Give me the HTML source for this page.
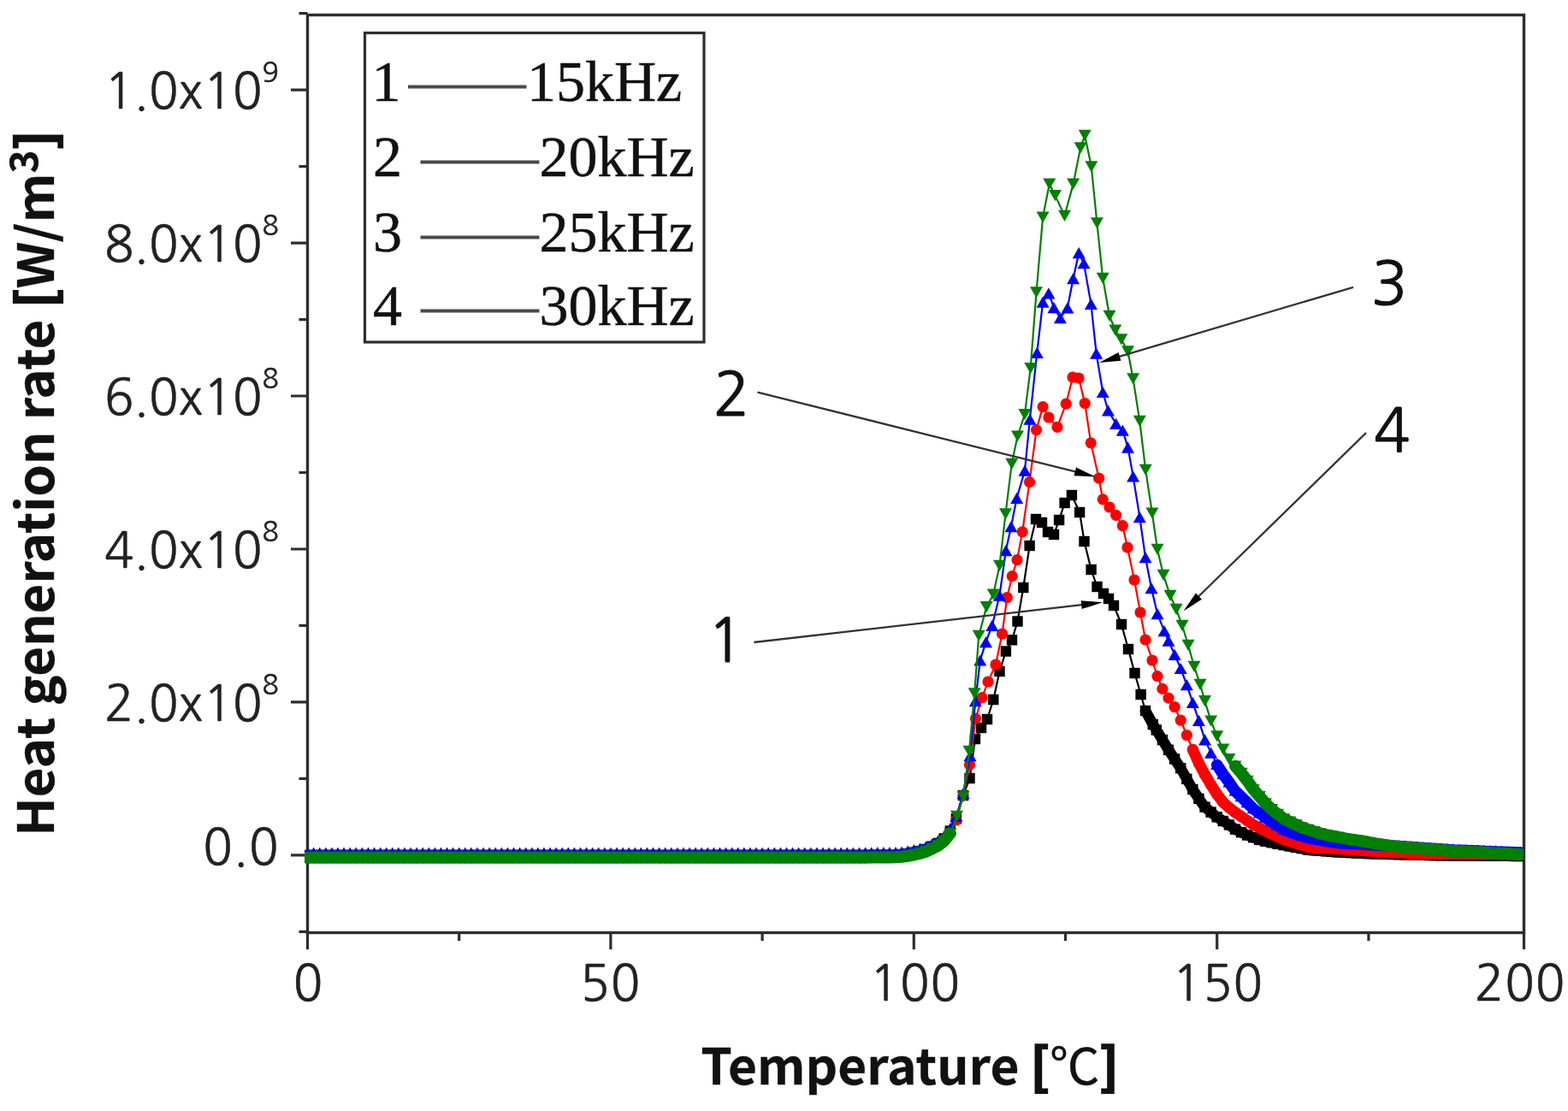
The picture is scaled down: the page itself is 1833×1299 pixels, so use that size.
<!DOCTYPE html>
<html><head><meta charset="utf-8"><style>html,body{margin:0;padding:0;background:#fff;overflow:hidden}svg{display:block}</style></head>
<body><svg width="1833" height="1299" viewBox="0 0 1833 1299"><defs><clipPath id="pc"><rect x="356" y="14" width="1424.5" height="1080"/></clipPath><marker id="msq" markerUnits="userSpaceOnUse" markerWidth="16" markerHeight="16" refX="6.2" refY="6.2" overflow="visible"><rect x="0" y="0" width="12.4" height="12.4" fill="#000"/></marker><marker id="mci" markerUnits="userSpaceOnUse" markerWidth="16" markerHeight="16" refX="8" refY="8" overflow="visible"><circle cx="8" cy="8" r="6.6" fill="#ff0000"/></marker><marker id="mtu" markerUnits="userSpaceOnUse" markerWidth="18" markerHeight="16" refX="7.5" refY="6.6" overflow="visible"><path d="M7.5,0L15,13.2H0Z" fill="#0000ff"/></marker><marker id="mtd" markerUnits="userSpaceOnUse" markerWidth="18" markerHeight="16" refX="7.5" refY="6.6" overflow="visible"><path d="M0,0H15L7.5,13.2Z" fill="#008000"/></marker></defs><rect x="0" y="0" width="1833" height="1299" fill="#fff"/><path d="M349.5,1089.3H359.5 M340,999.8H359.5 M349.5,910.3H359.5 M340,820.9H359.5 M349.5,731.4H359.5 M340,642.0H359.5 M349.5,552.5H359.5 M340,463.0H359.5 M349.5,373.6H359.5 M340,284.1H359.5 M349.5,194.7H359.5 M340,105.2H359.5 M349.5,15.7H359.5 M359.5,1090.5V1110 M536.7,1090.5V1100 M713.9,1090.5V1110 M891.1,1090.5V1100 M1068.3,1090.5V1110 M1245.5,1090.5V1100 M1422.7,1090.5V1110 M1599.9,1090.5V1100 M1781.5,1090.5V1110" stroke="#2e2e2e" stroke-width="3.2" fill="none"/><rect x="359.5" y="17.5" width="1422.0" height="1073.0" stroke="#2e2e2e" stroke-width="3.4" fill="none"/><g font-family="NanumGothic, 'Liberation Sans', sans-serif" font-size="57" letter-spacing="1.0" fill="#222" stroke="#222" stroke-width="0.5"><text x="360.5" y="1170" text-anchor="middle">0</text><text x="713.8" y="1170" text-anchor="middle">50</text><text x="1069.7" y="1170" text-anchor="middle">100</text><text x="1423.8" y="1170" text-anchor="middle">150</text><text x="1777.1" y="1170" text-anchor="middle">200</text><text x="326" y="127.2" text-anchor="end" letter-spacing="0">1.0x10<tspan font-size="32" dy="-31">9</tspan></text><text x="326" y="306.1" text-anchor="end" letter-spacing="0">8.0x10<tspan font-size="32" dy="-31">8</tspan></text><text x="326" y="485.0" text-anchor="end" letter-spacing="0">6.0x10<tspan font-size="32" dy="-31">8</tspan></text><text x="326" y="664.0" text-anchor="end" letter-spacing="0">4.0x10<tspan font-size="32" dy="-31">8</tspan></text><text x="326" y="842.9" text-anchor="end" letter-spacing="0">2.0x10<tspan font-size="32" dy="-31">8</tspan></text><text x="326.5" y="1011" text-anchor="end">0.0</text></g><text x="819.3" y="1268" font-family="'Noto Sans CJK KR', 'Liberation Sans', sans-serif" font-weight="bold" font-size="58" fill="#111" stroke="#111" stroke-width="0.3" textLength="488.4" lengthAdjust="spacingAndGlyphs">Temperature <tspan stroke-width="2.2">[</tspan><tspan font-weight="normal" stroke-width="0.4">℃</tspan><tspan stroke-width="2.2">]</tspan></text><text transform="translate(63,977.7) rotate(-90)" x="0" y="0" font-family="'Noto Sans CJK KR', 'Liberation Sans', sans-serif" font-weight="bold" font-size="58.5" fill="#111" stroke="#111" stroke-width="0.3" textLength="825" lengthAdjust="spacingAndGlyphs">Heat generation rate <tspan stroke-width="2.2">[</tspan>W/m<tspan font-size="45" dy="-19">3</tspan><tspan dy="19" stroke-width="2.2">]</tspan></text><g font-family="'Liberation Serif', 'Times New Roman', serif" font-size="68" fill="#111" stroke="#111" stroke-width="0.5"><rect x="426.5" y="38.5" width="396.5" height="361.5" stroke="#2e2e2e" stroke-width="3.2" fill="#fff"/><text x="434.5" y="117.5">1</text><path d="M477,101.5H615.5" stroke="#4a4a4a" stroke-width="4"/><text x="616" y="117.5">15kHz</text><text x="436" y="205.5">2</text><path d="M491.5,189.5H630.5" stroke="#4a4a4a" stroke-width="4"/><text x="630.5" y="205.5">20kHz</text><text x="436" y="293.5">3</text><path d="M491.5,277.5H630.5" stroke="#4a4a4a" stroke-width="4"/><text x="630.5" y="293.5">25kHz</text><text x="436" y="379.6">4</text><path d="M491.5,363.6H630.5" stroke="#4a4a4a" stroke-width="4"/><text x="630.5" y="379.6">30kHz</text></g><g clip-path="url(#pc)"><polyline points="1339.0,831.0 1347.8,847.0 1351.8,853.5 1358.9,865.1 1366.0,876.8 1373.1,887.4 1380.2,898.2 1387.3,910.8 1394.3,923.0 1401.4,933.8 1408.5,943.6 1415.6,949.6 1422.7,955.3 1429.8,960.0 1436.9,964.4 1444.0,969.6 1451.1,973.2 1458.1,976.5 1465.2,979.2 1472.3,981.9 1479.4,983.7 1486.5,985.2 1493.6,986.7 1500.7,988.1 1507.8,989.4 1514.8,990.8 1521.9,992.1 1529.0,993.5 1536.1,994.2 1543.2,994.8 1550.3,995.3 1557.4,995.9 1564.5,996.3 1571.5,996.7 1578.6,997.0 1585.7,997.4 1592.8,997.7 1599.9,998.1 1607.0,998.3 1614.1,998.5 1621.2,998.7 1628.3,998.9 1635.3,999.1 1642.4,999.3 1649.5,999.5 1656.6,999.6 1663.7,999.8 1670.8,999.9 1677.9,1000.1 1685.0,1000.2 1692.0,1000.3 1699.1,1000.5 1706.2,1000.5 1713.3,1000.6 1720.4,1000.6 1727.5,1000.6 1734.6,1000.7 1741.7,1000.7 1748.7,1000.7 1755.8,1000.8 1762.9,1000.8 1770.0,1000.9 1777.1,1000.9 1784.2,1000.9 1791.3,1001.0 1798.4,1001.0" fill="none" stroke="#000000" stroke-width="12.5" stroke-linejoin="round" stroke-linecap="round"/><polyline points="359.5,1000.0 366.6,1000.0 373.7,1000.0 380.8,1000.0 387.9,1000.0 394.9,1000.0 402.0,1000.0 409.1,1000.0 416.2,1000.0 423.3,1000.0 430.4,1000.0 437.5,1000.0 444.6,1000.0 451.6,1000.0 458.7,1000.0 465.8,1000.0 472.9,1000.0 480.0,1000.0 487.1,1000.0 494.2,1000.0 501.3,1000.0 508.3,1000.0 515.4,1000.0 522.5,1000.0 529.6,1000.0 536.7,1000.0 543.8,1000.0 550.9,1000.0 558.0,1000.0 565.1,1000.0 572.1,1000.0 579.2,1000.0 586.3,1000.0 593.4,1000.0 600.5,1000.0 607.6,1000.0 614.7,1000.0 621.8,1000.0 628.8,1000.0 635.9,1000.0 643.0,1000.0 650.1,1000.0 657.2,1000.0 664.3,1000.0 671.4,1000.0 678.5,1000.0 685.5,1000.0 692.6,1000.0 699.7,1000.0 706.8,1000.0 713.9,1000.0 721.0,1000.0 728.1,1000.0 735.2,1000.0 742.3,1000.0 749.3,1000.0 756.4,1000.0 763.5,1000.0 770.6,1000.0 777.7,1000.0 784.8,1000.0 791.9,1000.0 799.0,1000.0 806.0,1000.0 813.1,1000.0 820.2,1000.0 827.3,1000.0 834.4,1000.0 841.5,1000.0 848.6,1000.0 855.7,1000.0 862.7,1000.0 869.8,1000.0 876.9,1000.0 884.0,1000.0 891.1,1000.0 898.2,1000.0 905.3,1000.0 912.4,1000.0 919.5,1000.0 926.5,1000.0 933.6,1000.0 940.7,1000.0 947.8,1000.0 954.9,1000.0 962.0,1000.0 969.1,1000.0 976.2,1000.0 983.2,1000.0 990.3,1000.0 997.4,1000.0 1004.5,1000.0 1011.6,999.9 1018.7,999.8 1025.8,999.7 1032.9,999.7 1039.9,999.6 1047.0,999.5 1054.1,999.0 1061.2,998.0 1068.3,996.7 1075.4,995.1 1082.5,992.9 1089.6,989.6 1096.7,985.9 1103.7,980.4 1110.8,971.6 1117.9,957.3 1126.0,930.0 1133.5,910.0 1140.0,864.0 1147.0,851.0 1154.0,841.0 1161.3,818.0 1168.5,785.0 1175.9,761.5 1183.0,748.3 1189.5,726.5 1196.3,687.0 1203.6,638.0 1211.0,607.0 1218.0,611.0 1225.0,622.0 1232.0,625.0 1238.1,608.0 1244.6,588.0 1252.9,579.0 1262.1,599.0 1267.5,633.0 1275.6,666.0 1282.5,686.0 1290.0,694.0 1296.0,700.0 1302.0,708.0 1311.0,730.0 1319.0,759.0 1326.5,787.0 1333.6,812.0 1339.0,831.0 1347.8,847.0 1351.8,853.5 1358.9,865.1 1366.0,876.8 1373.1,887.4 1380.2,898.2 1387.3,910.8 1394.3,923.0 1401.4,933.8 1408.5,943.6 1415.6,949.6 1422.7,955.3 1429.8,960.0 1436.9,964.4 1444.0,969.6 1451.1,973.2 1458.1,976.5 1465.2,979.2 1472.3,981.9 1479.4,983.7 1486.5,985.2 1493.6,986.7 1500.7,988.1 1507.8,989.4 1514.8,990.8 1521.9,992.1 1529.0,993.5 1536.1,994.2 1543.2,994.8 1550.3,995.3 1557.4,995.9 1564.5,996.3 1571.5,996.7 1578.6,997.0 1585.7,997.4 1592.8,997.7 1599.9,998.1 1607.0,998.3 1614.1,998.5 1621.2,998.7 1628.3,998.9 1635.3,999.1 1642.4,999.3 1649.5,999.5 1656.6,999.6 1663.7,999.8 1670.8,999.9 1677.9,1000.1 1685.0,1000.2 1692.0,1000.3 1699.1,1000.5 1706.2,1000.5 1713.3,1000.6 1720.4,1000.6 1727.5,1000.6 1734.6,1000.7 1741.7,1000.7 1748.7,1000.7 1755.8,1000.8 1762.9,1000.8 1770.0,1000.9 1777.1,1000.9 1784.2,1000.9 1791.3,1001.0 1798.4,1001.0" fill="none" stroke="#000000" stroke-width="2.2" stroke-linejoin="round" marker-start="url(#msq)" marker-mid="url(#msq)" marker-end="url(#msq)"/><polyline points="1394.3,876.3 1401.4,892.4 1408.5,905.6 1415.6,917.5 1422.7,928.8 1429.8,938.0 1436.9,944.4 1444.0,949.9 1451.1,954.7 1458.1,959.5 1465.2,964.3 1472.3,967.9 1479.4,971.6 1486.5,975.1 1493.6,978.3 1500.7,981.6 1507.8,983.8 1514.8,986.0 1521.9,988.1 1529.0,990.2 1536.1,990.9 1543.2,991.3 1550.3,991.7 1557.4,992.1 1564.5,992.5 1571.5,993.0 1578.6,993.4 1585.7,993.9 1592.8,994.3 1599.9,994.8 1607.0,995.2 1614.1,995.6 1621.2,996.0 1628.3,996.3 1635.3,996.7 1642.4,997.1 1649.5,997.5 1656.6,997.6 1663.7,997.8 1670.8,997.9 1677.9,998.1 1685.0,998.2 1692.0,998.3 1699.1,998.5 1706.2,998.5 1713.3,998.6 1720.4,998.6 1727.5,998.6 1734.6,998.7 1741.7,998.7 1748.7,998.7 1755.8,998.8 1762.9,998.8 1770.0,998.9 1777.1,998.9 1784.2,998.9 1791.3,999.0 1798.4,999.0" fill="none" stroke="#ff0000" stroke-width="13" stroke-linejoin="round" stroke-linecap="round"/><polyline points="359.5,1001.5 366.6,1001.5 373.7,1001.5 380.8,1001.5 387.9,1001.5 394.9,1001.5 402.0,1001.5 409.1,1001.5 416.2,1001.5 423.3,1001.5 430.4,1001.5 437.5,1001.5 444.6,1001.5 451.6,1001.5 458.7,1001.5 465.8,1001.5 472.9,1001.5 480.0,1001.5 487.1,1001.5 494.2,1001.5 501.3,1001.5 508.3,1001.5 515.4,1001.5 522.5,1001.5 529.6,1001.5 536.7,1001.5 543.8,1001.5 550.9,1001.5 558.0,1001.5 565.1,1001.5 572.1,1001.5 579.2,1001.5 586.3,1001.5 593.4,1001.5 600.5,1001.5 607.6,1001.5 614.7,1001.5 621.8,1001.5 628.8,1001.5 635.9,1001.5 643.0,1001.5 650.1,1001.5 657.2,1001.5 664.3,1001.5 671.4,1001.5 678.5,1001.5 685.5,1001.5 692.6,1001.5 699.7,1001.5 706.8,1001.5 713.9,1001.5 721.0,1001.5 728.1,1001.5 735.2,1001.5 742.3,1001.5 749.3,1001.5 756.4,1001.5 763.5,1001.5 770.6,1001.5 777.7,1001.5 784.8,1001.5 791.9,1001.5 799.0,1001.5 806.0,1001.5 813.1,1001.5 820.2,1001.5 827.3,1001.5 834.4,1001.5 841.5,1001.5 848.6,1001.5 855.7,1001.5 862.7,1001.5 869.8,1001.5 876.9,1001.5 884.0,1001.5 891.1,1001.5 898.2,1001.5 905.3,1001.5 912.4,1001.5 919.5,1001.5 926.5,1001.5 933.6,1001.5 940.7,1001.5 947.8,1001.5 954.9,1001.5 962.0,1001.5 969.1,1001.5 976.2,1001.5 983.2,1001.5 990.3,1001.5 997.4,1001.5 1004.5,1001.5 1011.6,1001.4 1018.7,1001.3 1025.8,1001.2 1032.9,1001.2 1039.9,1001.1 1047.0,1001.0 1054.1,1000.5 1061.2,999.5 1068.3,998.2 1075.4,996.6 1082.5,994.4 1089.6,991.1 1096.7,987.4 1103.7,981.9 1110.8,973.1 1117.9,958.8 1126.0,930.0 1133.5,894.0 1140.5,840.0 1148.0,815.6 1155.0,797.0 1164.0,777.0 1171.5,741.0 1177.3,698.5 1183.2,673.7 1189.0,654.6 1195.2,621.8 1203.5,563.6 1211.5,502.6 1219.1,475.6 1226.0,488.0 1236.0,499.3 1246.2,472.2 1254.0,441.0 1261.0,442.0 1268.2,471.5 1275.2,517.8 1284.6,559.2 1289.2,583.8 1297.0,593.0 1304.6,602.3 1312.3,614.6 1318.0,640.0 1326.0,678.0 1333.0,716.0 1339.0,748.0 1347.0,772.0 1353.0,790.6 1358.9,805.4 1366.0,816.1 1373.1,826.5 1380.2,842.1 1387.3,859.5 1394.3,876.3 1401.4,892.4 1408.5,905.6 1415.6,917.5 1422.7,928.8 1429.8,938.0 1436.9,944.4 1444.0,949.9 1451.1,954.7 1458.1,959.5 1465.2,964.3 1472.3,967.9 1479.4,971.6 1486.5,975.1 1493.6,978.3 1500.7,981.6 1507.8,983.8 1514.8,986.0 1521.9,988.1 1529.0,990.2 1536.1,990.9 1543.2,991.3 1550.3,991.7 1557.4,992.1 1564.5,992.5 1571.5,993.0 1578.6,993.4 1585.7,993.9 1592.8,994.3 1599.9,994.8 1607.0,995.2 1614.1,995.6 1621.2,996.0 1628.3,996.3 1635.3,996.7 1642.4,997.1 1649.5,997.5 1656.6,997.6 1663.7,997.8 1670.8,997.9 1677.9,998.1 1685.0,998.2 1692.0,998.3 1699.1,998.5 1706.2,998.5 1713.3,998.6 1720.4,998.6 1727.5,998.6 1734.6,998.7 1741.7,998.7 1748.7,998.7 1755.8,998.8 1762.9,998.8 1770.0,998.9 1777.1,998.9 1784.2,998.9 1791.3,999.0 1798.4,999.0" fill="none" stroke="#ff0000" stroke-width="2.2" stroke-linejoin="round" marker-start="url(#mci)" marker-mid="url(#mci)" marker-end="url(#mci)"/><polyline points="1422.7,894.4 1429.8,905.3 1436.9,914.8 1444.0,925.0 1451.1,931.7 1458.1,938.6 1465.2,945.7 1472.3,950.9 1479.4,955.9 1486.5,960.7 1493.6,965.3 1500.7,969.9 1507.8,972.5 1514.8,974.8 1521.9,977.1 1529.0,979.5 1536.1,980.9 1543.2,982.2 1550.3,983.4 1557.4,984.6 1564.5,985.4 1571.5,985.9 1578.6,986.3 1585.7,986.7 1592.8,987.1 1599.9,987.5 1607.0,987.9 1614.1,988.3 1621.2,988.8 1628.3,989.2 1635.3,989.6 1642.4,990.0 1649.5,990.5 1656.6,991.0 1663.7,991.5 1670.8,992.0 1677.9,992.5 1685.0,992.9 1692.0,993.4 1699.1,993.9 1706.2,994.2 1713.3,994.5 1720.4,994.8 1727.5,995.1 1734.6,995.4 1741.7,995.7 1748.7,995.9 1755.8,996.2 1762.9,996.5 1770.0,996.8 1777.1,997.1 1784.2,997.4 1791.3,997.7 1798.4,997.9" fill="none" stroke="#0000ff" stroke-width="13.5" stroke-linejoin="round" stroke-linecap="round"/><polyline points="359.5,996.0 366.6,996.0 373.7,996.0 380.8,996.0 387.9,996.0 394.9,996.0 402.0,996.0 409.1,996.0 416.2,996.0 423.3,996.0 430.4,996.0 437.5,996.0 444.6,996.0 451.6,996.0 458.7,996.0 465.8,996.0 472.9,996.0 480.0,996.0 487.1,996.0 494.2,996.0 501.3,996.0 508.3,996.0 515.4,996.0 522.5,996.0 529.6,996.0 536.7,996.0 543.8,996.0 550.9,996.0 558.0,996.0 565.1,996.0 572.1,996.0 579.2,996.0 586.3,996.0 593.4,996.0 600.5,996.0 607.6,996.0 614.7,996.0 621.8,996.0 628.8,996.0 635.9,996.0 643.0,996.0 650.1,996.0 657.2,996.0 664.3,996.0 671.4,996.0 678.5,996.0 685.5,996.0 692.6,996.0 699.7,996.0 706.8,996.0 713.9,996.0 721.0,996.0 728.1,996.0 735.2,996.0 742.3,996.0 749.3,996.0 756.4,996.0 763.5,996.0 770.6,996.0 777.7,996.0 784.8,996.0 791.9,996.0 799.0,996.0 806.0,996.0 813.1,996.0 820.2,996.0 827.3,996.0 834.4,996.0 841.5,996.0 848.6,996.0 855.7,996.0 862.7,996.0 869.8,996.0 876.9,996.0 884.0,996.0 891.1,996.0 898.2,996.0 905.3,996.0 912.4,996.0 919.5,996.0 926.5,996.0 933.6,996.0 940.7,996.0 947.8,996.0 954.9,996.0 962.0,996.0 969.1,996.0 976.2,996.0 983.2,996.0 990.3,996.0 997.4,996.0 1004.5,996.0 1011.6,995.9 1018.7,995.8 1025.8,995.7 1032.9,995.7 1039.9,995.6 1047.0,995.5 1054.1,995.0 1061.2,994.0 1068.3,992.7 1075.4,991.1 1082.5,988.9 1089.6,985.6 1096.7,981.9 1103.7,976.4 1110.8,967.6" fill="none" stroke="#1a3a8a" stroke-width="5" stroke-linejoin="round"/><polyline points="359.5,997.0 366.6,997.0 373.7,997.0 380.8,997.0 387.9,997.0 394.9,997.0 402.0,997.0 409.1,997.0 416.2,997.0 423.3,997.0 430.4,997.0 437.5,997.0 444.6,997.0 451.6,997.0 458.7,997.0 465.8,997.0 472.9,997.0 480.0,997.0 487.1,997.0 494.2,997.0 501.3,997.0 508.3,997.0 515.4,997.0 522.5,997.0 529.6,997.0 536.7,997.0 543.8,997.0 550.9,997.0 558.0,997.0 565.1,997.0 572.1,997.0 579.2,997.0 586.3,997.0 593.4,997.0 600.5,997.0 607.6,997.0 614.7,997.0 621.8,997.0 628.8,997.0 635.9,997.0 643.0,997.0 650.1,997.0 657.2,997.0 664.3,997.0 671.4,997.0 678.5,997.0 685.5,997.0 692.6,997.0 699.7,997.0 706.8,997.0 713.9,997.0 721.0,997.0 728.1,997.0 735.2,997.0 742.3,997.0 749.3,997.0 756.4,997.0 763.5,997.0 770.6,997.0 777.7,997.0 784.8,997.0 791.9,997.0 799.0,997.0 806.0,997.0 813.1,997.0 820.2,997.0 827.3,997.0 834.4,997.0 841.5,997.0 848.6,997.0 855.7,997.0 862.7,997.0 869.8,997.0 876.9,997.0 884.0,997.0 891.1,997.0 898.2,997.0 905.3,997.0 912.4,997.0 919.5,997.0 926.5,997.0 933.6,997.0 940.7,997.0 947.8,997.0 954.9,997.0 962.0,997.0 969.1,997.0 976.2,997.0 983.2,997.0 990.3,997.0 997.4,997.0 1004.5,997.0 1011.6,996.9 1018.7,996.8 1025.8,996.7 1032.9,996.7 1039.9,996.6 1047.0,996.5 1054.1,996.0 1061.2,995.0 1068.3,993.7 1075.4,992.1 1082.5,989.9 1089.6,986.6 1096.7,982.9 1103.7,977.4 1110.8,968.6 1117.9,954.3 1126.0,927.7 1134.0,883.7 1140.3,819.7 1145.8,772.0 1152.5,750.7 1159.8,731.4 1168.5,696.2 1175.9,643.6 1182.0,615.7 1188.6,582.3 1198.0,550.2 1203.9,490.2 1212.3,412.3 1219.1,353.1 1225.9,342.9 1232.0,359.7 1239.4,371.7 1247.9,359.9 1254.6,325.7 1261.2,295.7 1267.0,307.7 1275.4,355.4 1281.6,413.2 1289.2,458.5 1295.4,480.0 1304.6,495.4 1312.3,503.1 1318.5,523.1 1324.6,556.9 1332.3,604.7 1339.0,651.7 1346.0,687.7 1353.0,717.7 1361.0,737.7 1366.0,749.1 1373.1,765.3 1380.2,781.5 1387.3,800.6 1394.3,821.3 1401.4,842.4 1408.5,864.9 1415.6,880.1 1422.7,893.4 1429.8,904.3 1436.9,913.8 1444.0,924.0 1451.1,930.7 1458.1,937.6 1465.2,944.7 1472.3,949.9 1479.4,954.9 1486.5,959.7 1493.6,964.3 1500.7,968.9 1507.8,971.5 1514.8,973.8 1521.9,976.1 1529.0,978.5 1536.1,979.9 1543.2,981.2 1550.3,982.4 1557.4,983.6 1564.5,984.4 1571.5,984.9 1578.6,985.3 1585.7,985.7 1592.8,986.1 1599.9,986.5 1607.0,986.9 1614.1,987.3 1621.2,987.8 1628.3,988.2 1635.3,988.6 1642.4,989.0 1649.5,989.5 1656.6,990.0 1663.7,990.5 1670.8,991.0 1677.9,991.5 1685.0,991.9 1692.0,992.4 1699.1,992.9 1706.2,993.2 1713.3,993.5 1720.4,993.8 1727.5,994.1 1734.6,994.4 1741.7,994.7 1748.7,994.9 1755.8,995.2 1762.9,995.5 1770.0,995.8 1777.1,996.1 1784.2,996.4 1791.3,996.7 1798.4,996.9" fill="none" stroke="#0000ff" stroke-width="2.2" stroke-linejoin="round" marker-start="url(#mtu)" marker-mid="url(#mtu)" marker-end="url(#mtu)"/><polyline points="359.5,1002.8 366.6,1002.8 373.7,1002.8 380.8,1002.8 387.9,1002.8 394.9,1002.8 402.0,1002.8 409.1,1002.8 416.2,1002.8 423.3,1002.8 430.4,1002.8 437.5,1002.8 444.6,1002.8 451.6,1002.8 458.7,1002.8 465.8,1002.8 472.9,1002.8 480.0,1002.8 487.1,1002.8 494.2,1002.8 501.3,1002.8 508.3,1002.8 515.4,1002.8 522.5,1002.8 529.6,1002.8 536.7,1002.8 543.8,1002.8 550.9,1002.8 558.0,1002.8 565.1,1002.8 572.1,1002.8 579.2,1002.8 586.3,1002.8 593.4,1002.8 600.5,1002.8 607.6,1002.8 614.7,1002.8 621.8,1002.8 628.8,1002.8 635.9,1002.8 643.0,1002.8 650.1,1002.8 657.2,1002.8 664.3,1002.8 671.4,1002.8 678.5,1002.8 685.5,1002.8 692.6,1002.8 699.7,1002.8 706.8,1002.8 713.9,1002.8 721.0,1002.8 728.1,1002.8 735.2,1002.8 742.3,1002.8 749.3,1002.8 756.4,1002.8 763.5,1002.8 770.6,1002.8 777.7,1002.8 784.8,1002.8 791.9,1002.8 799.0,1002.8 806.0,1002.8 813.1,1002.8 820.2,1002.8 827.3,1002.8 834.4,1002.8 841.5,1002.8 848.6,1002.8 855.7,1002.8 862.7,1002.8 869.8,1002.8 876.9,1002.8 884.0,1002.8 891.1,1002.8 898.2,1002.8 905.3,1002.8 912.4,1002.8 919.5,1002.8 926.5,1002.8 933.6,1002.8 940.7,1002.8 947.8,1002.8 954.9,1002.8 962.0,1002.8 969.1,1002.8 976.2,1002.8 983.2,1002.8 990.3,1002.8 997.4,1002.8 1004.5,1002.8 1011.6,1002.7 1018.7,1002.6 1025.8,1002.5 1032.9,1002.5 1039.9,1002.4 1047.0,1002.3 1054.1,1001.8 1061.2,1000.8 1068.3,999.5 1075.4,997.9 1082.5,995.7 1089.6,992.4 1096.7,988.7 1103.7,983.2 1110.8,974.4" fill="none" stroke="#008000" stroke-width="14" stroke-linejoin="round" stroke-linecap="round"/><polyline points="1444.0,895.7 1451.1,903.9 1458.1,912.8 1465.2,923.0 1472.3,931.1 1479.4,939.3 1486.5,946.2 1493.6,951.9 1500.7,957.3 1507.8,960.7 1514.8,964.1 1521.9,967.5 1529.0,969.9 1536.1,972.2 1543.2,974.4 1550.3,976.2 1557.4,977.5 1564.5,978.9 1571.5,980.2 1578.6,981.3 1585.7,982.4 1592.8,983.5 1599.9,984.8 1607.0,986.1 1614.1,987.3 1621.2,988.2 1628.3,989.1 1635.3,989.9 1642.4,990.7 1649.5,991.2 1656.6,991.7 1663.7,992.3 1670.8,992.8 1677.9,993.3 1685.0,993.9 1692.0,994.4 1699.1,994.9 1706.2,995.3 1713.3,995.7 1720.4,996.0 1727.5,996.4 1734.6,996.7 1741.7,997.1 1748.7,997.4 1755.8,997.8 1762.9,998.1 1770.0,998.5 1777.1,998.9 1784.2,999.2 1791.3,999.6 1798.4,999.9" fill="none" stroke="#008000" stroke-width="14" stroke-linejoin="round" stroke-linecap="round"/><polyline points="359.5,1003.3 366.6,1003.3 373.7,1003.3 380.8,1003.3 387.9,1003.3 394.9,1003.3 402.0,1003.3 409.1,1003.3 416.2,1003.3 423.3,1003.3 430.4,1003.3 437.5,1003.3 444.6,1003.3 451.6,1003.3 458.7,1003.3 465.8,1003.3 472.9,1003.3 480.0,1003.3 487.1,1003.3 494.2,1003.3 501.3,1003.3 508.3,1003.3 515.4,1003.3 522.5,1003.3 529.6,1003.3 536.7,1003.3 543.8,1003.3 550.9,1003.3 558.0,1003.3 565.1,1003.3 572.1,1003.3 579.2,1003.3 586.3,1003.3 593.4,1003.3 600.5,1003.3 607.6,1003.3 614.7,1003.3 621.8,1003.3 628.8,1003.3 635.9,1003.3 643.0,1003.3 650.1,1003.3 657.2,1003.3 664.3,1003.3 671.4,1003.3 678.5,1003.3 685.5,1003.3 692.6,1003.3 699.7,1003.3 706.8,1003.3 713.9,1003.3 721.0,1003.3 728.1,1003.3 735.2,1003.3 742.3,1003.3 749.3,1003.3 756.4,1003.3 763.5,1003.3 770.6,1003.3 777.7,1003.3 784.8,1003.3 791.9,1003.3 799.0,1003.3 806.0,1003.3 813.1,1003.3 820.2,1003.3 827.3,1003.3 834.4,1003.3 841.5,1003.3 848.6,1003.3 855.7,1003.3 862.7,1003.3 869.8,1003.3 876.9,1003.3 884.0,1003.3 891.1,1003.3 898.2,1003.3 905.3,1003.3 912.4,1003.3 919.5,1003.3 926.5,1003.3 933.6,1003.3 940.7,1003.3 947.8,1003.3 954.9,1003.3 962.0,1003.3 969.1,1003.3 976.2,1003.3 983.2,1003.3 990.3,1003.3 997.4,1003.3 1004.5,1003.3 1011.6,1003.2 1018.7,1003.1 1025.8,1003.0 1032.9,1003.0 1039.9,1002.9 1047.0,1002.8 1054.1,1002.3 1061.2,1001.3 1068.3,1000.0 1075.4,998.4 1082.5,996.2 1089.6,992.9 1096.7,989.2 1103.7,983.7 1110.8,974.9 1118.5,954.3 1126.0,931.3 1133.0,878.3 1139.2,810.9 1144.2,743.3 1153.2,709.6 1161.2,695.0 1168.5,661.3 1175.5,600.8 1182.7,542.3 1189.5,510.0 1197.9,484.6 1204.7,430.5 1211.5,341.8 1219.1,254.0 1226.7,215.1 1233.5,228.6 1244.5,252.3 1254.6,215.1 1263.1,172.8 1268.2,158.4 1275.8,194.8 1282.4,260.8 1289.2,325.3 1297.0,369.3 1303.8,386.1 1310.8,396.9 1318.5,410.8 1324.6,442.8 1332.3,492.3 1339.2,549.3 1346.9,600.0 1353.0,642.3 1360.0,672.3 1368.0,696.3 1375.0,712.3 1382.0,731.3 1389.0,754.3 1396.0,779.3 1403.0,800.3 1408.5,819.7 1415.6,843.0 1422.7,860.8 1429.8,876.2 1436.9,887.7 1444.0,896.2 1451.1,904.4 1458.1,913.3 1465.2,923.5 1472.3,931.6 1479.4,939.8 1486.5,946.7 1493.6,952.4 1500.7,957.8 1507.8,961.2 1514.8,964.6 1521.9,968.0 1529.0,970.4 1536.1,972.7 1543.2,974.9 1550.3,976.7 1557.4,978.0 1564.5,979.4 1571.5,980.7 1578.6,981.8 1585.7,982.9 1592.8,984.0 1599.9,985.3 1607.0,986.6 1614.1,987.8 1621.2,988.7 1628.3,989.6 1635.3,990.4 1642.4,991.2 1649.5,991.7 1656.6,992.2 1663.7,992.8 1670.8,993.3 1677.9,993.8 1685.0,994.4 1692.0,994.9 1699.1,995.4 1706.2,995.8 1713.3,996.2 1720.4,996.5 1727.5,996.9 1734.6,997.2 1741.7,997.6 1748.7,997.9 1755.8,998.3 1762.9,998.6 1770.0,999.0 1777.1,999.4 1784.2,999.7 1791.3,1000.1 1798.4,1000.4" fill="none" stroke="#008000" stroke-width="2.2" stroke-linejoin="round" marker-start="url(#mtd)" marker-mid="url(#mtd)" marker-end="url(#mtd)"/></g><g font-family="NanumGothic, 'Liberation Sans', sans-serif" font-size="70" fill="#111" stroke="#111" stroke-width="1.1"><text x="1603" y="355.5">3</text><text x="834" y="485.5">2</text><text x="1606" y="528">4</text><text x="827" y="774">1</text></g><path d="M1582,335.8L1306.1,417.7" stroke="#333" stroke-width="2.3" fill="none"/><path d="M1285,424L1307.5,412.1L1310.4,421.7Z" fill="#000"/><path d="M885.5,458.7L1259.7,552.2" stroke="#333" stroke-width="2.3" fill="none"/><path d="M1281,557.5L1255.5,556.3L1258.0,546.6Z" fill="#000"/><path d="M1597,506L1399.2,699.2" stroke="#333" stroke-width="2.3" fill="none"/><path d="M1383.5,714.6L1397.9,693.6L1404.9,700.7Z" fill="#000"/><path d="M881.4,751L1267.1,706.8" stroke="#333" stroke-width="2.3" fill="none"/><path d="M1289,704.3L1264.7,712.1L1263.6,702.2Z" fill="#000"/></svg></body></html>
